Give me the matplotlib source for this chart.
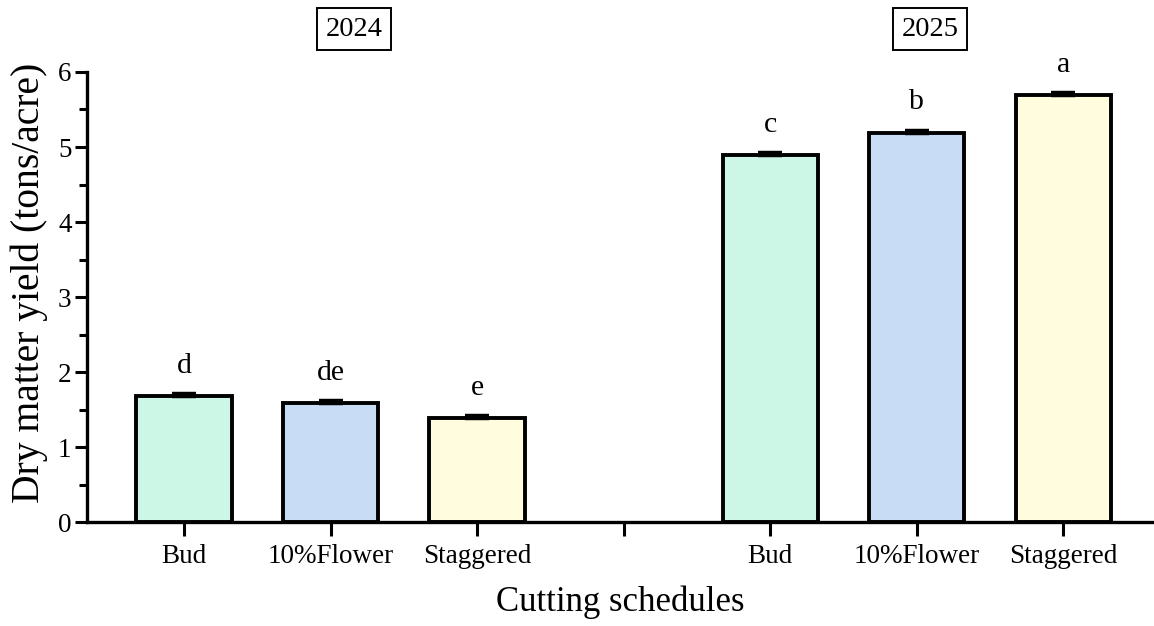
import numpy as np
import matplotlib.pyplot as plt

plt.rcParams['font.family'] = ['Liberation Serif', 'DejaVu Serif']

# data
schedules = ['Bud', '10%Flower', 'Staggered']
years = ['2024', '2025']
yield_2024 = [1.68, 1.59, 1.39]
yield_2025 = [4.89, 5.19, 5.69]
err_2024 = [0.03, 0.03, 0.03]
err_2025 = [0.03, 0.03, 0.03]
letters_2024 = ['d', 'de', 'e']
letters_2025 = ['c', 'b', 'a']
colors = ['#CCF7E6', '#C8DDF5', '#FFFDDE']

fig = plt.figure(figsize=(11.54, 6.26), dpi=100)
ax = fig.add_axes([0.0752, 0.166, 0.9248, 0.719])

pos_2024 = np.arange(3)
pos_2025 = np.arange(3) + 4
w = 0.65

for pos, vals, errs, lets in [(pos_2024, yield_2024, err_2024, letters_2024),
                              (pos_2025, yield_2025, err_2025, letters_2025)]:
    ax.bar(pos, vals, width=w, color=colors, edgecolor='black', linewidth=2.8, zorder=2)
    ax.errorbar(pos, vals, yerr=[np.zeros(3), errs], fmt='none', ecolor='black',
                elinewidth=2.5, capsize=8.5, capthick=3.2, zorder=3)
    for x, v, e, t in zip(pos, vals, errs, lets):
        ax.text(x, v + e + 0.2, t, ha='center', va='bottom', fontsize=21.5)

# year labels in boxes
for xpos, yr in [(1.16, years[0]), (5.09, years[1])]:
    ax.text(xpos, 6.57, yr, ha='center', va='center', fontsize=20.5,
            bbox=dict(boxstyle='square,pad=0.3', facecolor='white', edgecolor='black', linewidth=1.4),
            clip_on=False)

ax.set_xlim(-0.664, 6.62)
ax.set_ylim(0, 6)
ax.set_xticks([0, 1, 2, 3, 4, 5, 6])
ax.set_xticklabels(schedules + [''] + schedules, fontsize=19.5)
ax.set_yticks(range(7))
ax.set_yticks(np.arange(0.5, 6, 1), minor=True)
ax.tick_params(axis='y', labelsize=19.5, width=2.2, length=9, pad=2)
ax.tick_params(axis='y', which='minor', width=2.2, length=6)
ax.tick_params(axis='x', width=2.2, length=10, pad=6)

for s in ['top', 'right']:
    ax.spines[s].set_visible(False)
for s in ['left', 'bottom']:
    ax.spines[s].set_linewidth(2.4)

ax.set_xlabel('Cutting schedules', fontsize=25, labelpad=12)
ax.set_ylabel('Dry matter yield (tons/acre)', fontsize=28.5)
ax.yaxis.set_label_coords(-0.036, 0.531)

plt.savefig('out.png', dpi=100)
